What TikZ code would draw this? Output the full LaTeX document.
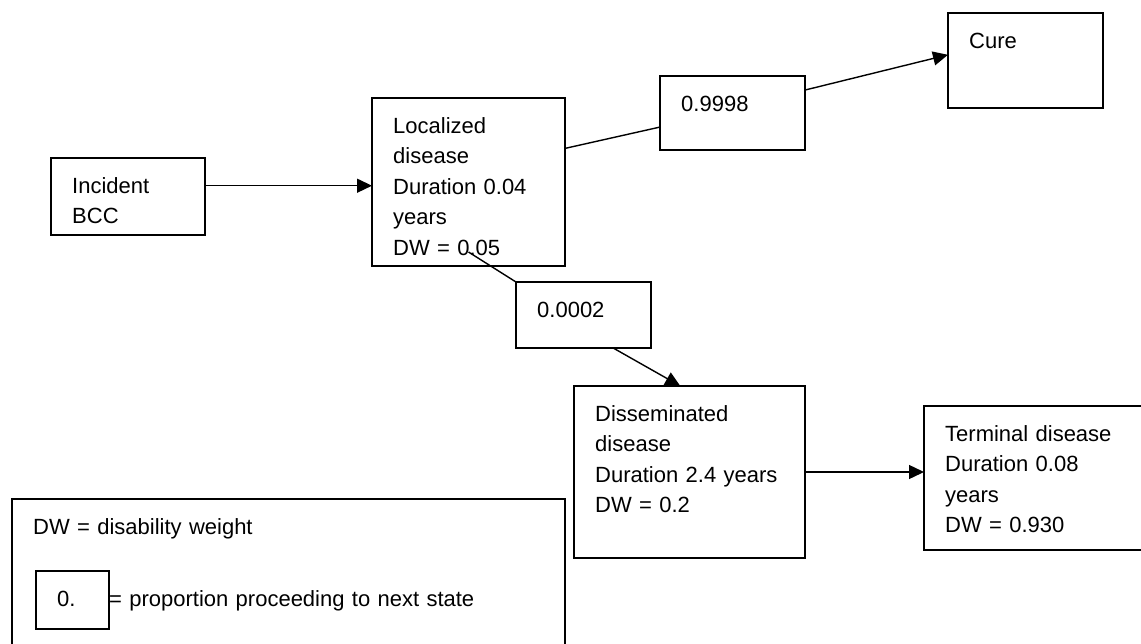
\documentclass[tikz,border=0pt]{standalone}
\usepackage{fontspec}
\setmainfont{Liberation Sans}
\usepackage{tikz}
\usetikzlibrary{positioning,arrows.meta,calc}

\tikzset{
  statebox/.style={draw, line width=1.4pt, anchor=north west, inner sep=0pt, outer sep=0pt},
  statetext/.style={anchor=base west, inner sep=0pt, text width=230pt, align=left,
    font=\fontsize{22}{30.5}\selectfont},
  link/.style={line width=1.4pt},
  flow/.style={link, -{Triangle[length=15pt, width=14pt]}},
}

\begin{document}
\begin{tikzpicture}[x=1pt, y=-1pt]

\useasboundingbox (0,0) rectangle (1141,643);
\clip (0,0) rectangle (1141,643);

% State boxes
\node[statebox, minimum width=154pt, minimum height=77pt] (inc) at (51,158) {};
\node[statebox, minimum width=193pt, minimum height=168pt] (loc) at (372,98) {};
\node[statebox, minimum width=155pt, minimum height=95pt] (cure) at (948,13) {};
\node[statebox, minimum width=231pt, minimum height=172pt] (dis) at (574,386) {};
\node[statebox, minimum width=240pt, minimum height=144pt] (term) at (924,406) {};

% Proportion boxes
\node[statebox, minimum width=145pt, minimum height=74pt] (p1) at (660,76) {};
\node[statebox, minimum width=135pt, minimum height=66pt] (p2) at (516,282) {};

% Texts
\node[statetext] (inc-t) at ([shift={(21,35)}]inc.north west) {Incident\\BCC};
\node[statetext] (loc-t) at ([shift={(21,35)}]loc.north west)
  {Localized\\disease\\Duration 0.04\\years\\DW = 0.05};
\node[statetext] (cure-t) at ([shift={(21,35)}]cure.north west) {Cure};
\node[statetext] (dis-t) at ([shift={(21,35)}]dis.north west)
  {Disseminated\\disease\\Duration 2.4 years\\DW = 0.2};
\node[statetext] (term-t) at ([shift={(21,35)}]term.north west)
  {Terminal disease\\Duration 0.08\\years\\DW = 0.930};
\node[statetext] (p1-t) at ([shift={(21,35)}]p1.north west) {0.9998};
\node[statetext] (p2-t) at ([shift={(21,35)}]p2.north west) {0.0002};

% Connectors
\coordinate (inc-out) at ($(inc.north east)!0.36!(inc.south east)$);
\draw[flow] (inc-out) -- (inc-out -| loc.west);
\draw[link] ($(loc.north east)!0.30!(loc.south east)$) -- ($(p1.north west)!0.69!(p1.south west)$);
\draw[flow] ($(p1.north east)!0.19!(p1.south east)$) -- ($(cure.north west)!0.44!(cure.south west)$);
\draw[link] ([yshift=14pt]loc.south) -- (p2.north west);
\draw[flow] ($(p2.south west)!0.72!(p2.south east)$) -- ($(dis.north west)!0.46!(dis.north east)$);
\draw[flow] (dis.east) -- (dis.east -| term.west);

% Key
\node[statebox, minimum width=553pt, minimum height=160pt] (key) at (12,499) {};
\node[statetext] (key-dw) at ([shift={(21,35)}]key.north west) {DW = disability weight};
\node[statebox, minimum width=73pt, minimum height=58pt] (key-box) at (36,571) {};
\node[statetext] (key-box-t) at ([shift={(21,35)}]key-box.north west) {0.};
\node[statetext, text width=400pt] (key-prop) at ([shift={(0,35)}]key-box.north east)
  {= proportion proceeding to next state};

\end{tikzpicture}
\end{document}
